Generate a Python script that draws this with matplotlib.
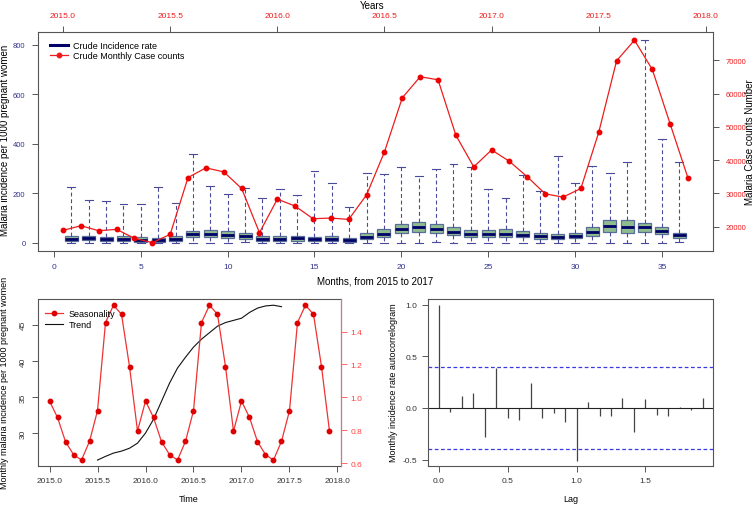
import numpy as np
import matplotlib
matplotlib.use("Agg")
import matplotlib.pyplot as plt
from matplotlib.lines import Line2D

plt.rcParams['font.family'] = ['Liberation Sans', 'DejaVu Sans']

# --- top panel : monthly boxplots of incidence + monthly case counts ---
months = list(range(1, 37))
inc_q1 = [8, 11, 8, 8, 5, 5, 8, 22, 22, 20, 16, 8, 8, 9, 7, 8, 5, 15,
          22, 38, 43, 38, 30, 24, 24, 24, 22, 16, 15, 19, 27, 43, 40, 43, 35, 20]
inc_med = [17, 20, 17, 17, 13, 12, 17, 35, 35, 33, 26, 17, 17, 18, 15, 17, 12, 23,
           35, 57, 62, 55, 42, 35, 35, 36, 32, 27, 22, 27, 42, 67, 66, 62, 46, 30]
inc_q3 = [26, 28, 25, 26, 22, 21, 26, 47, 50, 48, 38, 26, 26, 27, 24, 26, 20, 38,
          55, 78, 84, 78, 62, 51, 51, 55, 46, 40, 35, 40, 62, 94, 93, 82, 63, 40]
inc_hi = [224, 174, 169, 157, 157, 224, 160, 359, 231, 196, 220, 180, 216, 194, 292, 240, 143, 284,
          277, 305, 269, 300, 317, 305, 216, 180, 273, 209, 352, 243, 312, 281, 328, 820, 421, 328]
inc_lo = [0, 0, 0, 0, 0, 0, 0, 0, 0, 0, 2, 0, 0, 0, 0, 0, 0, 0,
          0, 1, 0, 2, 0, 0, 0, 0, 0, 0, 1, 0, 0, 0, 0, 0, 1, 2]

case_years = [2015 + i / 12 for i in range(36)]
case_counts = [18900, 20300, 18800, 19200, 16500, 15200, 17700, 34800, 37700, 36500, 31500, 18200,
               28300, 26200, 22400, 22600, 22200, 29600, 42500, 58800, 65100, 64200, 47500, 38000,
               43100, 39650, 35000, 29900, 28900, 31500, 48400, 69900, 76100, 67300, 50900, 34600]

# --- bottom left : decomposition ---
seas_years = [2015 + i / 12 for i in range(36)]
seasonality = [0.977, 0.877, 0.730, 0.651, 0.618, 0.732, 0.918, 1.455, 1.560, 1.505, 1.187, 0.794,
               0.977, 0.877, 0.730, 0.651, 0.618, 0.732, 0.918, 1.455, 1.560, 1.505, 1.187, 0.794,
               0.977, 0.877, 0.730, 0.651, 0.618, 0.732, 0.918, 1.455, 1.560, 1.505, 1.187, 0.794]
trend_years = [2015.5 + i / 12 for i in range(24)]
trend = [26.26, 26.77, 27.23, 27.5, 27.9, 28.6, 30.0, 31.9, 34.4, 36.9, 39.0, 40.5,
         41.9, 43.0, 43.9, 44.8, 45.3, 45.6, 45.9, 46.7, 47.3, 47.6, 47.7, 47.5]

# --- bottom right : autocorrelogram ---
lags = [i / 12 for i in range(24)]
acf = [1.0, -0.035, 0.12, 0.145, -0.28, 0.385, -0.095, -0.115, 0.24, -0.10, -0.048, -0.14,
       -0.51, 0.06, -0.077, -0.077, 0.10, -0.23, 0.09, -0.065, -0.077, 0.01, -0.022, 0.10]
conf = 0.40

navy = '#000066'
blue_tk = '#33338f'
red = '#ee1c1c'
frame_c = '#555555'
W, H = 755, 506


def style_frame(ax):
    for s in ax.spines.values():
        s.set_color(frame_c)
        s.set_linewidth(0.8)
    ax.tick_params(colors=frame_c, length=4, width=0.7, labelsize=6)


def px_text(x, y, s, **kw):
    # place a label at pixel coordinates (from the top-left corner)
    fig.text(x / W, 1 - y / H, s, ha='center', va='center', **kw)


fig = plt.figure(figsize=(7.55, 5.06), dpi=100)

# top panel
ax = fig.add_axes([0.0503, 0.502, 0.894, 0.433])
stats = []
for m, lo, a, md, b, hi in zip(months, inc_lo, inc_q1, inc_med, inc_q3, inc_hi):
    stats.append(dict(med=md, q1=a, q3=b, whislo=lo, whishi=hi, fliers=[], label=str(m)))
ax.bxp(stats, positions=months, widths=0.75, capwidths=0.45, patch_artist=True,
       boxprops=dict(facecolor='#8fbc8f', edgecolor='#5a6e9a', linewidth=0.9),
       medianprops=dict(color=navy, linewidth=2),
       whiskerprops=dict(color='#4a4a9a', linestyle=(0, (3.5, 2.5)), linewidth=0.8),
       capprops=dict(color='#4a4a9a', linewidth=0.8))
ax.set_xlim(-0.92, 37.94)
ax.set_ylim(-33, 853)
ax.set_xticks(range(0, 36, 5))
ax.set_xticklabels([str(v) for v in range(0, 36, 5)])
ax.set_yticks(range(0, 801, 200))
ax.set_yticklabels([str(v) for v in range(0, 801, 200)])
style_frame(ax)
ax.tick_params(axis='both', labelcolor=blue_tk, pad=5)
ax.tick_params(axis='y', labelsize=5.5)

ax2 = fig.add_axes(ax.get_position(), frameon=False)
ax2.plot(case_years, case_counts, color=red, linewidth=0.9, marker='o', markersize=3.2,
         markerfacecolor='#ee0000', markeredgecolor='#ee0000')
ax2.set_xlim(2014.883, 2018.033)
ax2.set_ylim(12700, 78600)
ax2.xaxis.tick_top()
ax2.yaxis.tick_right()
ax2.set_xticks(np.arange(2015, 2018.01, 0.5))
ax2.set_xticklabels(['%.1f' % v for v in np.arange(2015, 2018.01, 0.5)])
ax2.set_yticks(range(20000, 70001, 10000))
ax2.tick_params(colors=frame_c, length=4, width=0.7, labelsize=6, labelcolor=red, pad=5)
ax2.tick_params(axis='y', labelsize=5.5)

handles = [Line2D([], [], color=navy, linewidth=2.2),
           Line2D([], [], color=red, linewidth=0.9, marker='o', markersize=3.2)]
ax2.legend(handles, ['Crude Incidence rate', 'Crude Monthly Case counts'], loc='upper left',
           frameon=False, fontsize=6.5, handlelength=2.0, handletextpad=0.6,
           labelspacing=0.15, borderaxespad=0.0, bbox_to_anchor=(0.012, 0.975))

px_text(372, 6, 'Years', fontsize=7)
px_text(375, 281, 'Months, from 2015 to 2017', fontsize=7)
px_text(5, 140, 'Malaria incidence per 1000 pregnant women', fontsize=7, rotation=90)
px_text(750, 142, 'Malaria Case counts Number', fontsize=7, rotation=90)

# bottom left panel
bl = fig.add_axes([0.0507, 0.0765, 0.4005, 0.3306])
bl.plot(trend_years, trend, color='#111111', linewidth=0.8)
bl.set_xlim(2014.883, 2018.033)
bl.set_ylim(25.4, 48.56)
bl.set_yticks([30, 35, 40, 45])
bl.set_yticklabels(['30', '35', '40', '45'], rotation=90, va='center')
bl.set_xticks(np.arange(2015, 2018.01, 0.5))
bl.set_xticklabels(['%.1f' % v for v in np.arange(2015, 2018.01, 0.5)])
style_frame(bl)
bl.tick_params(labelcolor='#333333', pad=4)

br2 = bl.twinx()
br2.plot(seas_years, seasonality, color='#ee3333', linewidth=0.9, marker='o', markersize=3.2,
         markerfacecolor='#dd0000', markeredgecolor='#dd0000')
br2.set_ylim(0.580, 1.598)
br2.set_yticks([0.6, 0.8, 1.0, 1.2, 1.4])
br2.set_yticklabels(['0.6', '0.8', '1.0', '1.2', '1.4'])
for s in br2.spines.values():
    s.set_visible(False)
br2.spines['right'].set_visible(True)
br2.spines['right'].set_color('#ff6666')
br2.tick_params(axis='y', colors='#ff6666', labelcolor='#ff4444', length=4, width=0.7,
                labelsize=6, pad=3)
lh = [Line2D([], [], color='#ee3333', linewidth=0.9, marker='o', markersize=3.2,
             markerfacecolor='#dd0000', markeredgecolor='#dd0000'),
      Line2D([], [], color='#111111', linewidth=0.8)]
br2.legend(lh, ['Seasonality', 'Trend'], loc='upper left', frameon=False, fontsize=6.5,
           handlelength=2.0, handletextpad=0.6, borderaxespad=0.0, labelspacing=0.15,
           bbox_to_anchor=(0.01, 0.96))

px_text(189, 500, 'Time', fontsize=6.5)
px_text(5, 383, 'Monthly malaria incidence per 1000 pregnant women', fontsize=6.5, rotation=90)

# bottom right panel
ac = fig.add_axes([0.5673, 0.0765, 0.3775, 0.3306])
ac.vlines(lags, 0, acf, color='#444444', linewidth=0.9)
ac.axhline(0, color='#222222', linewidth=0.8)
ac.axhline(conf, color='#3a3ae0', linestyle=(0, (3, 2)), linewidth=0.9)
ac.axhline(-conf, color='#3a3ae0', linestyle=(0, (3, 2)), linewidth=0.9)
ac.set_xlim(-0.077, 1.993)
ac.set_ylim(-0.565, 1.055)
ac.set_xticks([0, 0.5, 1.0, 1.5])
ac.set_xticklabels(['0.0', '0.5', '1.0', '1.5'])
ac.set_yticks([-0.5, 0, 0.5, 1.0])
ac.set_yticklabels(['-0.5', '0.0', '0.5', '1.0'])
style_frame(ac)
ac.tick_params(labelcolor='#333333', pad=4)

px_text(571, 500, 'Lag', fontsize=6.5)
px_text(394, 383, 'Monthly incidence rate autocorrelogram', fontsize=6.5, rotation=90)

fig.savefig('out.png', dpi=100)
